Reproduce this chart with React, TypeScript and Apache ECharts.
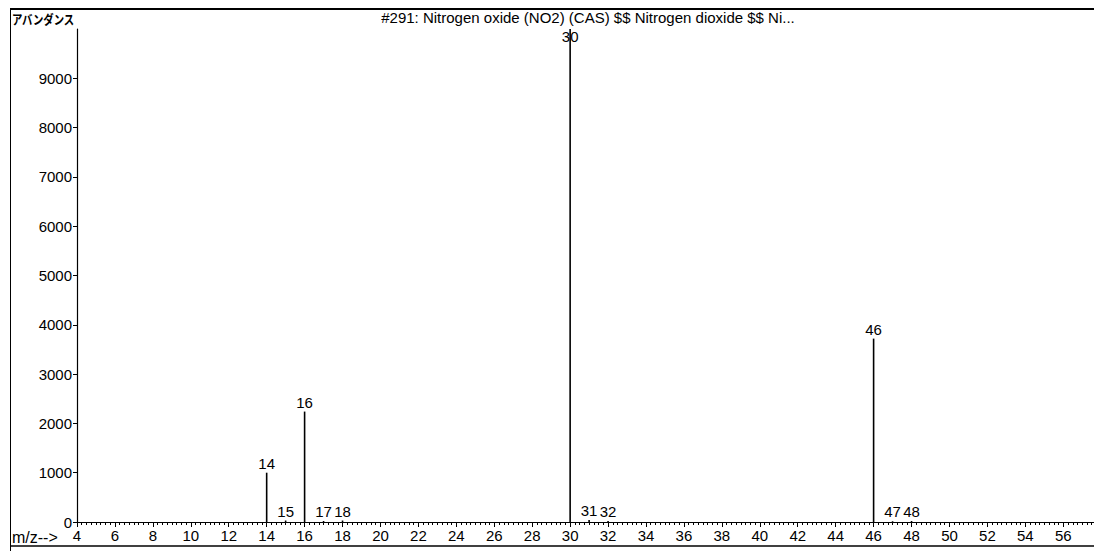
import React, { useEffect, useRef } from "react";
import * as echarts from "echarts";

const mzValues = [14, 15, 16, 17, 18, 30, 31, 32, 46, 47, 48];
const abundances = [1000, 30, 2240, 20, 30, 9999, 40, 20, 3720, 15, 20];
const titleText = "#291: Nitrogen oxide (NO2) (CAS) $$ Nitrogen dioxide $$ Ni...";
const yAxisName = "アバンダンス";
const xAxisName = "m/z-->";

export default function App() {
  const ref = useRef<HTMLDivElement>(null);
  useEffect(() => {
    if (!ref.current) return;
    const chart = echarts.init(ref.current, null, { renderer: "svg" });
    const font = "'Liberation Sans', Arial, sans-serif";
    const data = mzValues.map((m, i) => {
      const item: any = { value: [m, abundances[i]] };
      if (abundances[i] > 9500) {
        item.label = { position: "insideTop", distance: 0 };
      }
      return item;
    });
    chart.setOption({
      animation: false,
      backgroundColor: "#ffffff",
      grid: { left: 77, right: 0, top: 29, bottom: 29, containLabel: false },
      xAxis: {
        type: "value",
        min: 4,
        max: 57.62,
        interval: 2,
        axisLine: { show: true, lineStyle: { color: "#000", width: 1.2 } },
        axisTick: { show: true, length: 5, lineStyle: { color: "#000" } },
        minorTick: { show: true, splitNumber: 8, length: 3, lineStyle: { color: "#000" } },
        splitLine: { show: false },
        axisLabel: {
          color: "#000",
          fontFamily: font,
          fontSize: 15,
          margin: 6,
          showMaxLabel: false,
        },
      },
      yAxis: {
        type: "value",
        min: 0,
        max: 10000,
        interval: 1000,
        axisLine: { show: true, lineStyle: { color: "#000", width: 1.2 } },
        axisTick: { show: true, length: 4, lineStyle: { color: "#000" } },
        splitLine: { show: false },
        axisLabel: {
          color: "#000",
          fontFamily: font,
          fontSize: 15,
          margin: 5,
          showMaxLabel: false,
          formatter: (v: number) => String(v),
        },
      },
      series: [
        {
          type: "bar",
          data,
          barWidth: 1.6,
          itemStyle: { color: "#000" },
          label: {
            show: true,
            position: "top",
            distance: 2,
            color: "#000",
            fontFamily: font,
            fontSize: 15,
            formatter: (p: any) => String(p.value[0]),
          },
        },
      ],
      graphic: [
        { type: "line", shape: { x1: 10, y1: 9, x2: 1094, y2: 9 }, style: { stroke: "#000", lineWidth: 2 } },
        { type: "line", shape: { x1: 10.5, y1: 9, x2: 10.5, y2: 551 }, style: { stroke: "#000", lineWidth: 1 } },
        { type: "line", shape: { x1: 10, y1: 546, x2: 1094, y2: 546 }, style: { stroke: "#000", lineWidth: 1.5 } },
        {
          type: "text",
          x: 12,
          y: 18,
          scaleX: 0.8,
          style: {
            text: yAxisName,
            fill: "#000",
            font: "bold 13px 'Noto Sans CJK JP', sans-serif",
            textVerticalAlign: "middle",
          },
        },
        {
          type: "text",
          x: 588,
          y: 17,
          style: {
            text: titleText,
            fill: "#000",
            font: "15px 'Liberation Sans', Arial, sans-serif",
            textAlign: "center",
            textVerticalAlign: "middle",
          },
        },
        {
          type: "text",
          x: 12,
          y: 537,
          style: {
            text: xAxisName,
            fill: "#000",
            font: "16px 'Liberation Sans', Arial, sans-serif",
            textVerticalAlign: "middle",
          },
        },
      ],
    });
    return () => chart.dispose();
  }, []);
  return (
    <div
      ref={ref}
      style={{ position: "absolute", left: 0, top: 0, width: 1094, height: 551, background: "#fff" }}
    />
  );
}
